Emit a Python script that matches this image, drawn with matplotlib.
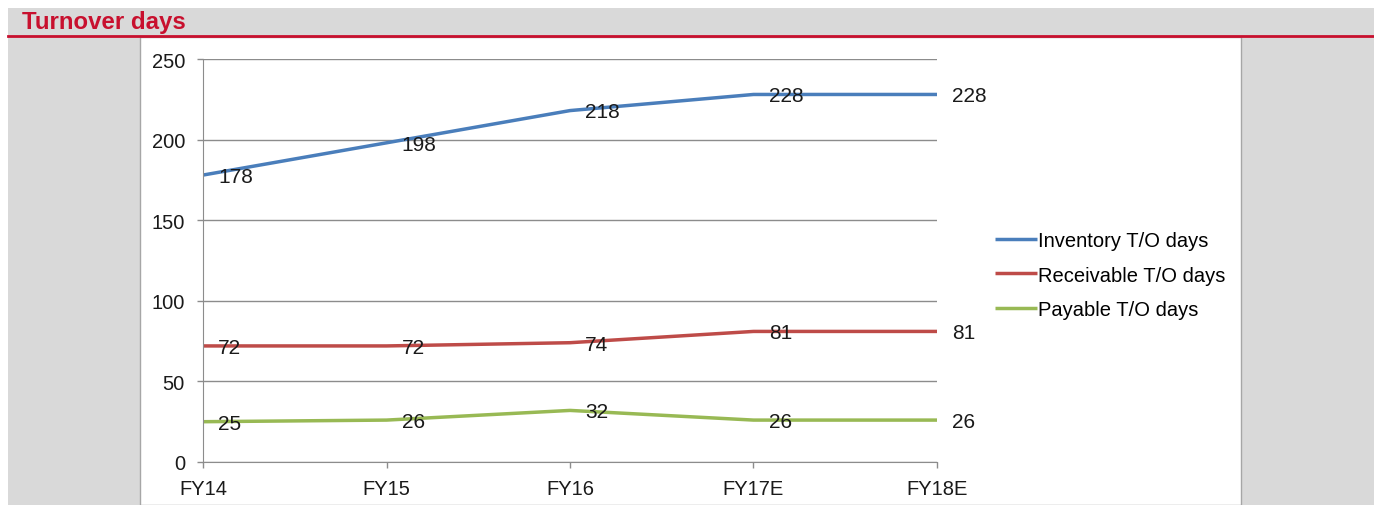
import matplotlib.pyplot as plt
from matplotlib.patches import Rectangle
from matplotlib.lines import Line2D

plt.rcParams['font.family'] = ['Liberation Sans', 'DejaVu Sans']

years = ["FY14", "FY15", "FY16", "FY17E", "FY18E"]
inventory = [178, 198, 218, 228, 228]
receivable = [72, 72, 74, 81, 81]
payable = [25, 26, 32, 26, 26]

W, H = 1374, 506
fig = plt.figure(figsize=(W / 100, H / 100), dpi=100)

def box(x0, y0, x1, y1, color, z=0, **kw):
    # pixel coords from top-left
    r = Rectangle((x0 / W, 1 - y1 / H), (x1 - x0) / W, (y1 - y0) / H,
                  transform=fig.transFigure, facecolor=color, zorder=z, **kw)
    fig.patches.append(r)

# background panels
box(8, 9, W, H, "#d9d9d9")
box(140, 38, 1241, H, "white", z=1, edgecolor="#a6a6a6", linewidth=1)
fig.lines.append(Line2D([8 / W, 1], [1 - 36.5 / H, 1 - 36.5 / H], transform=fig.transFigure,
                        color="#c8102e", linewidth=2, zorder=2))
fig.text(22 / W, 1 - 23 / H, "Turnover days", color="#c8102e", fontsize=17.3,
         fontweight="bold", va="center", ha="left")

ax = fig.add_axes([203 / W, (H - 463) / H, (937 - 203) / W, (463 - 60) / H])
ax.set_zorder(3)
ax.patch.set_alpha(0)

x = list(range(len(years)))
series = [
    (inventory, "Inventory T/O days", "#4a7ebb"),
    (receivable, "Receivable T/O days", "#be4b48"),
    (payable, "Payable T/O days", "#98b954"),
]
for vals, name, col in series:
    ax.plot(x, vals, color=col, linewidth=2.5, label=name, solid_capstyle="butt")
    for xi, v in zip(x, vals):
        ax.annotate(str(v), (xi, v), xytext=(11, -1), textcoords="offset points",
                    ha="left", va="center", fontsize=15, color="#1a1a1a")

ax.set_xlim(0, 4)
ax.set_ylim(0, 250)
ax.set_yticks(range(0, 251, 50))
ax.set_xticks(x)
ax.set_xticklabels(years)
ax.grid(axis="y", color="#8c8c8c", linewidth=1)
ax.set_axisbelow(True)
for s in ["top", "right"]:
    ax.spines[s].set_visible(False)
for s in ["left", "bottom"]:
    ax.spines[s].set_color("#8c8c8c")
ax.tick_params(axis="both", colors="#8c8c8c", labelcolor="#1a1a1a", labelsize=14.5,
               length=4, width=1)
ax.tick_params(axis="y", pad=9)
ax.tick_params(axis="x", pad=8)

leg = ax.legend(loc="center left", bbox_to_anchor=(1.079, 0.464), frameon=False,
                borderpad=0, borderaxespad=0,
                fontsize=14.5, handlelength=2.1, handletextpad=0.05, labelspacing=0.76)

fig.savefig("out.png", dpi=100)
